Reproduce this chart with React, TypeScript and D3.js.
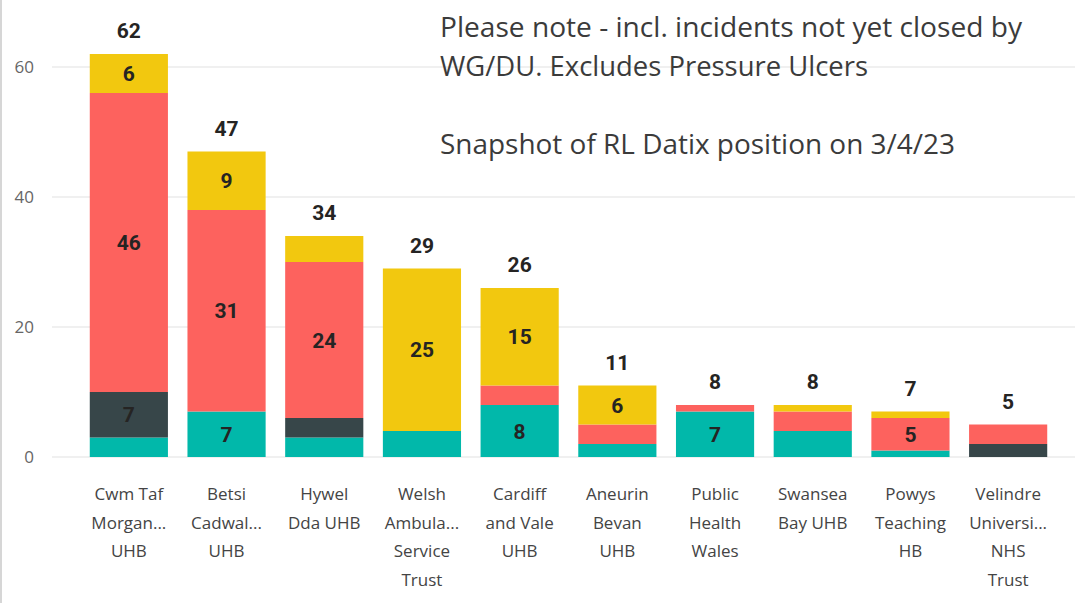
import React, { useEffect, useRef } from "react";
import * as d3 from "d3";

const categoryLines = [
  ["Cwm Taf", "Morgan...", "UHB"],
  ["Betsi", "Cadwal...", "UHB"],
  ["Hywel", "Dda UHB"],
  ["Welsh", "Ambula...", "Service", "Trust"],
  ["Cardiff", "and Vale", "UHB"],
  ["Aneurin", "Bevan", "UHB"],
  ["Public", "Health", "Wales"],
  ["Swansea", "Bay UHB"],
  ["Powys", "Teaching", "HB"],
  ["Velindre", "Universi...", "NHS", "Trust"],
];

const seriesKeys = ["Series A", "Series B", "Series C", "Series D"];
const seriesA = [3, 7, 3, 4, 8, 2, 7, 4, 1, 0];
const seriesB = [7, 0, 3, 0, 0, 0, 0, 0, 0, 2];
const seriesC = [46, 31, 24, 0, 3, 3, 1, 3, 5, 3];
const seriesD = [6, 9, 4, 25, 15, 6, 0, 1, 1, 0];
const seriesColors = ["#01B8AA", "#374649", "#FD625E", "#F2C80F"];

const yTicks = [0, 20, 40, 60];

const noteLines = [
  "Please note - incl. incidents not yet closed by",
  "WG/DU. Excludes Pressure Ulcers",
  "",
  "Snapshot of RL Datix position on 3/4/23",
];

const W = 1075;
const H = 603;

const App = () => {
  const ref = useRef<SVGSVGElement>(null);

  useEffect(() => {
    const svg = d3.select(ref.current);
    svg.selectAll("*").remove();

    const names = categoryLines.map((l) => l.join(" "));
    const rows = names.map((name, i) => ({
      name,
      "Series A": seriesA[i],
      "Series B": seriesB[i],
      "Series C": seriesC[i],
      "Series D": seriesD[i],
    }));

    const x = d3.scaleBand().domain(names).range([80, 1057]).paddingInner(0.2).paddingOuter(0.1);
    const y = d3.scaleLinear().domain([0, 60]).range([457, 67]);
    const color = d3.scaleOrdinal<string, string>().domain(seriesKeys).range(seriesColors);

    // left frame line
    svg
      .append("line")
      .attr("x1", 1)
      .attr("x2", 1)
      .attr("y1", 0)
      .attr("y2", H)
      .attr("stroke", "#c8c8c8")
      .attr("stroke-width", 1.5);

    // gridlines
    svg
      .append("g")
      .selectAll("line")
      .data(yTicks)
      .enter()
      .append("line")
      .attr("x1", 52)
      .attr("x2", W)
      .attr("y1", (d) => y(d))
      .attr("y2", (d) => y(d))
      .attr("stroke", "#ebebeb")
      .attr("stroke-width", 1.5);

    // y tick labels
    svg
      .append("g")
      .attr("font-family", "'Open Sans', sans-serif")
      .attr("font-size", 17)
      .attr("fill", "#666")
      .attr("text-anchor", "end")
      .selectAll("text")
      .data(yTicks)
      .enter()
      .append("text")
      .attr("x", 34)
      .attr("y", (d) => y(d))
      .attr("dy", "0.35em")
      .text((d) => d);

    const stacked = d3.stack<any>().keys(seriesKeys)(rows);

    const layers = svg
      .append("g")
      .selectAll("g")
      .data(stacked)
      .enter()
      .append("g")
      .attr("fill", (d) => color(d.key));

    layers
      .selectAll("rect")
      .data((d) => d)
      .enter()
      .append("rect")
      .attr("x", (d) => x(d.data.name)!)
      .attr("width", x.bandwidth())
      .attr("y", (d) => y(d[1]))
      .attr("height", (d) => y(d[0]) - y(d[1]));

    // segment labels
    const segs = stacked.flatMap((s) =>
      s.map((d) => ({ name: d.data.name, v: d[1] - d[0], y0: d[0], y1: d[1] }))
    );
    svg
      .append("g")
      .attr("font-family", "Roboto, sans-serif")
      .attr("font-weight", 700)
      .attr("font-size", 21)
      .attr("fill", "#252423")
      .attr("text-anchor", "middle")
      .selectAll("text")
      .data(segs.filter((d) => d.v >= 5))
      .enter()
      .append("text")
      .attr("x", (d) => x(d.name)! + x.bandwidth() / 2)
      .attr("y", (d) => y((d.y0 + d.y1) / 2))
      .attr("dy", "0.36em")
      .text((d) => d.v);

    // totals
    const totals = rows.map((r, i) => ({
      name: r.name,
      total: seriesA[i] + seriesB[i] + seriesC[i] + seriesD[i],
    }));
    svg
      .append("g")
      .attr("font-family", "Roboto, sans-serif")
      .attr("font-weight", 700)
      .attr("font-size", 21)
      .attr("fill", "#252423")
      .attr("text-anchor", "middle")
      .selectAll("text")
      .data(totals)
      .enter()
      .append("text")
      .attr("x", (d) => x(d.name)! + x.bandwidth() / 2)
      .attr("y", (d) => y(d.total) - 16)
      .text((d) => d.total);

    // category labels
    const cat = svg
      .append("g")
      .attr("font-family", "'Open Sans', sans-serif")
      .attr("font-size", 17)
      .attr("fill", "#444")
      .attr("text-anchor", "middle")
      .selectAll("text")
      .data(categoryLines.map((lines, i) => ({ lines, name: names[i] })))
      .enter()
      .append("text")
      .attr("x", (d) => x(d.name)! + x.bandwidth() / 2)
      .attr("y", 500);
    cat
      .selectAll("tspan")
      .data((d) => d.lines.map((l) => ({ l, cx: x(d.name)! + x.bandwidth() / 2 })))
      .enter()
      .append("tspan")
      .attr("x", (d) => d.cx)
      .attr("dy", (_, i) => (i === 0 ? 0 : 28.7))
      .text((d) => d.l);

    // note text
    const noteWidths = [582, 428, 0, 515];
    svg
      .append("g")
      .attr("font-family", "'Open Sans', sans-serif")
      .attr("font-size", 27)
      .attr("fill", "#3b3b3b")
      .selectAll("text")
      .data(noteLines.map((t, i) => ({ t, i })).filter((d) => d.t))
      .enter()
      .append("text")
      .attr("x", 440)
      .attr("y", (d) => 37 + d.i * 39)
      .attr("textLength", (d) => noteWidths[d.i])
      .attr("lengthAdjust", "spacingAndGlyphs")
      .text((d) => d.t);
  }, []);

  return (
    <svg
      ref={ref}
      width={W}
      height={H}
      style={{ position: "absolute", left: 0, top: 0, background: "#fff" }}
    />
  );
};

export default App;
